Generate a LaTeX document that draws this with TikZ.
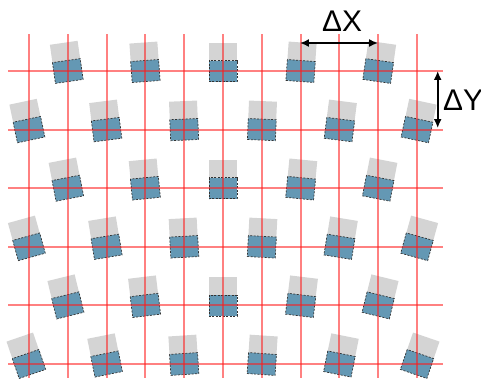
\documentclass[tikz,border=0pt]{standalone}
\usepackage{fontspec}
\setmainfont{Liberation Sans}
\usepackage{tikz}
\usetikzlibrary{arrows.meta}
\definecolor{gridred}{HTML}{FF1A1A}
\definecolor{dieblue}{HTML}{6498B4}
\definecolor{ghostgray}{HTML}{D4D4D4}
\tikzset{
  gridline/.style={draw=gridred,draw opacity=0.55,line width=2bp},
  die/.style={fill=dieblue,draw=black!80,dash pattern=on 2pt off 1.5pt,line width=0.7pt},
  ghost/.style={fill=ghostgray},
  dim/.style={{Latex[length=9pt,width=8pt]}-{Latex[length=9pt,width=8pt]},line width=1.6pt},
  dimlabel/.style={font=\fontsize{30}{32}\selectfont,inner sep=0pt},
}

\begin{document}
\begin{tikzpicture}[x=1bp,y=-1bp]
  \useasboundingbox (0,0) rectangle (481,381);
  % dies sit on every other crossing, tilted more towards the sides
  \foreach \r in {0,...,5}{
    \foreach \c in {0,...,10}{
      \pgfmathtruncatemacro\odd{mod(\r+\c,2)}
      \ifnum\odd=1
        \pgfmathsetmacro\dx{29+38.8*\c}
        \pgfmathsetmacro\dy{71+58.6*\r}
        \pgfmathsetmacro\tilt{-(\dx-223)*(0.0421+0.000153*\dy)}
        \begin{scope}[shift={(\dx,\dy)},rotate=\tilt]
          \fill[ghost] (-14,-28.5) rectangle (14,0);
          \draw[die] (-14,-10.5) rectangle (14,10.5);
        \end{scope}
      \fi
    }
  }
  % grid, snapped to whole pixels
  \foreach \c in {0,...,10}{
    \pgfmathtruncatemacro\gx{round(29+38.8*\c)}
    \draw[gridline] (\gx,34) -- (\gx,378);
  }
  \foreach \r in {0,...,5}{
    \pgfmathtruncatemacro\gy{round(71+58.6*\r)}
    \draw[gridline] (8,\gy) -- (443,\gy);
  }
  % pitch
  \coordinate (xa) at (300,43);
  \coordinate (xb) at (378,43);
  \draw[dim] (xa) -- (xb);
  \node[dimlabel] (dxlabel) at (342,21) {ΔX};
  \coordinate (ya) at (437.7,71);
  \coordinate (yb) at (437.7,128);
  \draw[dim] (ya) -- (yb);
  \node[dimlabel,anchor=west] (dylabel) at (443,100) {ΔY};
\end{tikzpicture}
\end{document}
